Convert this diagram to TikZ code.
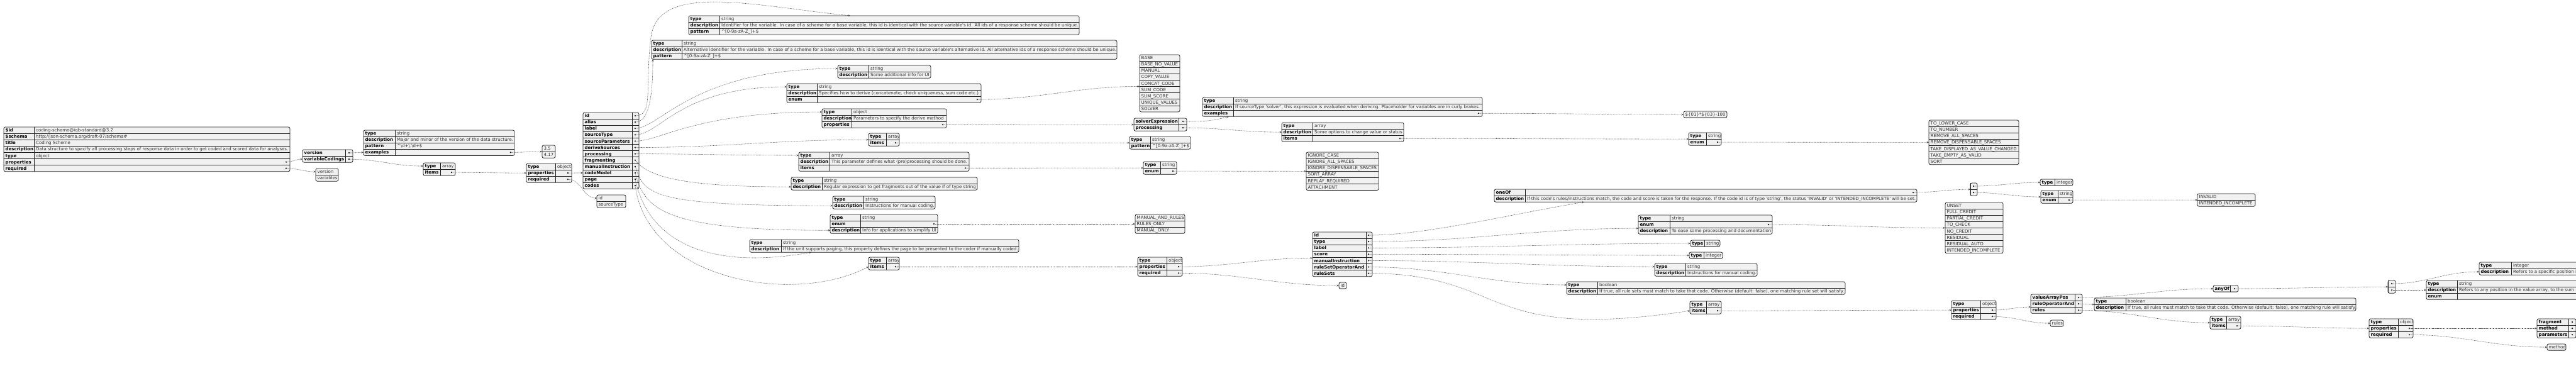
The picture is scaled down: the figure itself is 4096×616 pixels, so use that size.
\documentclass[tikz,border=0pt]{standalone}
\usepackage{fontspec}
\setmainfont{DejaVu Sans}
\usetikzlibrary{arrows.meta}

\definecolor{cellbg}{HTML}{F1F1F1}
\definecolor{cellline}{HTML}{1E1E1E}
\definecolor{valcol}{HTML}{303030}
\definecolor{linkcol}{HTML}{4A4A4A}

\newcommand{\rh}{10.1}
\newcommand{\sq}{\textquotesingle}

\tikzset{
  tabbox/.style={draw=cellline, fill=cellbg, rounded corners=2.5pt, line width=0.8pt,
    anchor=north west, inner sep=0pt, outer sep=0pt},
  cellsep/.style={draw=cellline, line width=0.6pt},
  keytxt/.style={anchor=base west, inner sep=0pt, font=\fontsize{7}{8}\selectfont\bfseries},
  valtxt/.style={anchor=base west, inner sep=0pt, text=valcol, font=\fontsize{7}{8}\selectfont},
  link/.style={draw=linkcol, line width=0.6pt, dash pattern=on 0.8pt off 0.9pt,
    -{Stealth[length=3.6pt,width=3pt]}},
}

% name, x, y, key width, value width, {key/value/bullet,...}
\newcommand{\jtab}[6]{%
  \foreach \jk/\jv/\jb [count=\i] in {#6} {\xdef\jn{\i}}
  \node[tabbox, minimum width={(#4+#5)*1pt}, minimum height={\jn*\rh*1pt}] (#1) at (#2,#3) {};
  \foreach \jk/\jv/\jb [count=\i] in {#6} {
    \coordinate (#1-l\i) at (#2,#3+\i*\rh-0.5*\rh);
    \coordinate (#1-\i) at (#2+#4+#5-6,#3+\i*\rh-0.5*\rh);
    \ifnum\i>1 \draw[cellsep] (#2,#3+\i*\rh-\rh) -- ++(#4+#5,0); \fi
    \node[keytxt] at ([xshift=2.5pt,yshift=-2.6pt]#1-l\i) {\jk};
    \node[valtxt] at ([xshift=#4pt+3pt,yshift=-2.6pt]#1-l\i) {\jv};
    \ifnum\jb=1 \fill (#1-\i) circle (1.2pt); \fi
  }
  \draw[cellsep] (#2+#4,#3) -- ++(0,\jn*\rh);
}
% name, x, y, width, {item,...}
\newcommand{\jlist}[5]{%
  \foreach \jv [count=\i] in {#5} {\xdef\jn{\i}}
  \node[tabbox, minimum width={#4*1pt}, minimum height={\jn*\rh*1pt}] (#1) at (#2,#3) {};
  \foreach \jv [count=\i] in {#5} {
    \coordinate (#1-l\i) at (#2,#3+\i*\rh-0.5*\rh);
    \ifnum\i>1 \draw[cellsep] (#2,#3+\i*\rh-\rh) -- ++(#4,0); \fi
    \node[valtxt] at ([xshift=2.5pt,yshift=-2.6pt]#1-l\i) {\jv};
  }
}

\begin{document}
\begin{tikzpicture}[x=1pt,y=-1pt]
\useasboundingbox (0,0) rectangle (4096,616);
\clip (0,0) rectangle (4096,616);

\jtab{root}{6}{202}{48}{407}{\$id/coding-scheme@iqb-standard@3.2/0, \$schema/{http://json-schema.org/draft-07/schema\#}/0, title/Coding Scheme/0, description/{Data structure to specify all processing steps of response data in order to get coded and scored data for analyses.}/0, type/object/0, properties//1, required//1}
\jtab{rootprops}{481}{238}{68}{12}{version//1, variableCodings//1}
\jlist{rootreq}{502}{268}{36}{version, variables}
\jtab{ver}{578}{207}{50}{190}{type/string/0, description/Major and minor of the version of the data structure./0, pattern/{\textasciicircum\textbackslash d+\textbackslash.\textbackslash d+\$}/0, examples//1}
\jlist{verex}{862}{231}{21}{3.5, 4.17}
\jtab{vcarr}{673}{259}{27}{24}{type/array/0, items//1}
\jtab{vcitem}{837}{260}{46}{26}{type/object/0, properties//1, required//1}
\jtab{vcprops}{927}{179}{78}{11}{id//1, alias//1, label//1, sourceType//1, sourceParameters//1, deriveSources//1, processing//1, fragmenting//1, manualInstruction//1, codeModel//1, page//1, codes//1}
\jlist{vcreq}{949}{310}{46}{id, sourceType}

\jtab{idtab}{1095}{25}{49}{572}{type/string/0, description/{Identifier for the variable. In case of a scheme for a base variable, this id is identical with the source variable\sq s id. All ids of a response scheme should be unique.}/0, pattern/{\textasciicircum[0-9a-zA-Z\_]+\$}/0}
\jtab{aliastab}{1036}{64}{48}{692}{type/string/0, description/{Alternative identifier for the variable. In case of a scheme for a base variable, this id is identical with the source variable\sq s alternative id. All alternative ids of a response scheme should be unique.}/0, pattern/{\textasciicircum[0-9a-zA-Z\_]+\$}/0}
\jtab{labeltab}{1332}{104}{49}{99}{type/string/0, description/Some additional info for UI/0}
\jtab{stypetab}{1251}{133}{48}{261}{type/string/0, description/{Specifies how to derive (concatenate, check uniqueness, sum code etc.).}/0, enum//1}
\jlist{stypeenum}{1812}{87}{64}{BASE, BASE\_NO\_VALUE, MANUAL, COPY\_VALUE, CONCAT\_CODE, SUM\_CODE, SUM\_SCORE, UNIQUE\_VALUES, SOLVER}
\jtab{sptab}{1307}{173}{47}{151}{type/object/0, description/Parameters to specify the derive method/0, properties//1}
\jtab{spprops}{1803}{188}{71}{13}{solverExpression//1, processing//1}
\jtab{solvtab}{1912}{155}{49}{396}{type/string/0, description/{If sourceType \sq solver\sq, this expression is evaluated when deriving. Placeholder for variables are in curly brakes.}/0, examples//1}
\jlist{solvex}{2677}{177}{69}{\$\{01\}*\$\{03\}-100}
\jtab{spproc}{2038}{195}{49}{145}{type/array/0, description/Some options to change value or status/0, items//1}
\jtab{spprocitem}{2685}{211}{28}{24}{type/string/0, enum//1}
\jlist{spprocenum}{3067}{191}{143}{TO\_LOWER\_CASE, TO\_NUMBER, REMOVE\_ALL\_SPACES, REMOVE\_DISPENSABLE\_SPACES, TAKE\_DISPLAYED\_AS\_VALUE\_CHANGED, TAKE\_EMPTY\_AS\_VALID, SORT}
\jtab{dstab}{1381}{212}{28}{21}{type/array/0, items//1}
\jtab{dsitem}{1796}{217}{33}{64}{type/string/0, pattern/{\textasciicircum[0-9a-zA-Z\_]+\$}/0}
\jtab{proctab}{1270}{242}{49}{222}{type/array/0, description/This parameter defines what (pre)processing should be done./0, items//1}
\jtab{procitem}{1818}{257}{27}{26}{type/string/0, enum//1}
\jlist{procenum}{2077}{242}{115}{IGNORE\_CASE, IGNORE\_ALL\_SPACES, IGNORE\_DISPENSABLE\_SPACES, SORT\_ARRAY, REPLAY\_REQUIRED, ATTACHMENT}
\jtab{fragtab}{1258}{282}{49}{247}{type/string/0, description/Regular expression to get fragments out of the value if of type string/0}
\jtab{mantab}{1324}{312}{49}{114}{type/string/0, description/Instructions for manual coding./0}
\jtab{cmtab}{1320}{341}{48}{123}{type/string/0, enum//1, description/Info for applications to simplify UI/0}
\jlist{cmenum}{1805}{341}{79}{MANUAL\_AND\_RULES, RULES\_ONLY, MANUAL\_ONLY}
\jtab{pagetab}{1192}{381}{50}{378}{type/string/0, description/{If the unit supports paging, this property defines the page to be presented to the coder if manually coded.}/0}
\jtab{codestab}{1381}{409}{28}{21}{type/array/0, items//1}
\jtab{codeobj}{1809}{409}{46}{25}{type/object/0, properties//1, required//1}
\jtab{codeprops}{2087}{369}{85}{10}{id//1, type//1, label//1, score//1, manualInstruction//1, ruleSetOperatorAnd//1, ruleSets//1}
\jlist{codereq}{2129}{449}{12}{id}

\jtab{oneoftab}{2376}{301}{49}{623}{oneOf//1, description/{If this code\sq s rules/instructions match, the code and score is taken for the response. If the code id is of type \sq string\sq, the status \sq INVALID\sq\ or \sq INTENDED\_INCOMPLETE\sq\ will be set.}/0}
\jtab{oneofalt}{3133}{291}{0}{11}{//1, //1}
\jtab{oneofint}{3244}{285}{23}{29}{type/integer/0}
\jtab{oneofstr}{3245}{303}{27}{24}{type/string/0, enum//1}
\jlist{oneofenum}{3494}{308}{92}{INVALID, INTENDED\_INCOMPLETE}
\jtab{ctypetab}{2605}{342}{50}{163}{type/string/0, enum//1, description/To ease some processing and documentation/0}
\jlist{ctypeenum}{3093}{322}{92}{UNSET, FULL\_CREDIT, PARTIAL\_CREDIT, TO\_CHECK, NO\_CREDIT, RESIDUAL, RESIDUAL\_AUTO, INTENDED\_INCOMPLETE}
\jtab{clabeltab}{2688}{382}{22}{25}{type/string/0}
\jtab{cscoretab}{2686}{401}{23}{30}{type/integer/0}
\jtab{cmantab}{2631}{419}{49}{114}{type/string/0, description/Instructions for manual coding./0}
\jtab{crsoptab}{2491}{448}{49}{394}{type/boolean/0, description/{If true, all rule sets must match to take that code. Otherwise (default: false), one matching rule set will satisfy.}/0}
\jtab{crstab}{2687}{479}{26}{24}{type/array/0, items//1}
\jtab{rsobj}{3103}{478}{46}{25}{type/object/0, properties//1, required//1}
\jtab{rsprops}{3229}{468}{70}{12}{valueArrayPos//1, ruleOperatorAnd//1, rules//1}
\jlist{rsreq}{3260}{509}{21}{rules}
\jtab{anyoftab}{3519}{454}{27}{13}{anyOf//1}
\jtab{anyofalt}{3797}{446}{0}{12}{//1, //1}
\jtab{apint}{3942}{417}{51}{300}{type/integer/0, description/Refers to a specific position in the value array./0}
\jtab{apstr}{3858}{446}{49}{400}{type/string/0, description/{Refers to any position in the value array, to the sum of all values or to the length of the array.}/0, enum//1}
\jtab{rsopand}{3330}{474}{50}{366}{type/boolean/0, description/{If true, all rules must match to take that code. Otherwise (default: false), one matching rule will satisfy.}/0}
\jtab{rulesarr}{3514}{503}{26}{23}{type/array/0, items//1}
\jtab{ruleobj}{3767}{507}{46}{24}{type/object/0, properties//1, required//1}
\jtab{ruleprops}{4034}{507}{50}{12}{fragment//1, method//1, parameters//1}
\jlist{rulereq}{4050}{547}{30}{method}

\draw[link] (root-6) to[out=0,in=180] (rootprops-l2);
\draw[link] (root-7) to[out=0,in=180] (rootreq-l1);
\draw[link] (rootprops-1) to[out=0,in=180] (ver-l4);
\draw[link] (rootprops-2) to[out=0,in=180] (vcarr-l1);
\draw[link] (ver-4) to[out=0,in=180] (verex.west);
\draw[link] (vcarr-2) to[out=0,in=180] (vcitem-l2);
\draw[link] (vcitem-2) to[out=0,in=180] (vcprops-l10);
\draw[link] (vcitem-3) to[out=0,in=180] (vcreq-l1);
\draw[link] (vcprops-1) .. controls +(30,0) and +(-10,80) .. (1035,60) .. controls +(10,-90) and +(-150,-15) .. ([xshift=257pt]idtab.north west);
\draw[link] (vcprops-2) .. controls +(25,0) and +(0,45) .. ([xshift=2pt]aliastab.south west);
\draw[link] (vcprops-3) .. controls +(40,0) and +(-230,0) .. (labeltab-l1);
\draw[link] (vcprops-4) .. controls +(40,0) and +(-170,0) .. (stypetab-l1);
\draw[link] (vcprops-5) .. controls +(40,0) and +(-200,0) .. (sptab-l1);
\draw[link] (vcprops-6) to[out=0,in=180] (dstab.west);
\draw[link] (vcprops-7) to[out=0,in=180] (proctab-l1);
\draw[link] (vcprops-8) .. controls +(20,25) and +(-180,0) .. (fragtab-l2);
\draw[link] (vcprops-9) .. controls +(15,45) and +(-290,0) .. (mantab-l2);
\draw[link] (vcprops-10) .. controls +(15,60) and +(-260,0) .. (cmtab-l3);
\draw[link] (vcprops-11) .. controls +(20,95) and +(-170,30) .. ([xshift=98pt]pagetab.south west);
\draw[link] (vcprops-12) .. controls +(20,150) and +(-120,62) .. (codestab-l2);
\draw[link] (stypetab-3) to[out=0,in=180] ([yshift=-5pt]stypeenum.west);
\draw[link] (sptab-3) to[out=0,in=180] (spprops.west);
\draw[link] (spprops-1) .. controls +(30,0) and +(-30,8) .. ([xshift=42pt]solvtab.south west);
\draw[link] (spprops-2) to[out=0,in=180] (spproc.west);
\draw[link] (solvtab-3) to[out=0,in=180] (solvex.west);
\draw[link] (spproc-3) to[out=0,in=180] (spprocitem.west);
\draw[link] (spprocitem-2) to[out=0,in=180] (spprocenum.west);
\draw[link] (dstab-2) to[out=0,in=180] (dsitem.west);
\draw[link] (proctab-3) to[out=0,in=180] (procitem.west);
\draw[link] (procitem-2) to[out=0,in=180] (procenum.west);
\draw[link] (cmtab-2) to[out=0,in=180] (cmenum.west);
\draw[link] (codestab-2) to[out=0,in=180] (codeobj-l2);
\draw[link] (codeobj-2) to[out=0,in=180] ([yshift=-6pt]codeprops.west);
\draw[link] (codeobj-3) to[out=0,in=180] (codereq.west);
\draw[link] (codeprops-1) .. controls +(90,0) and +(-120,20) .. ([xshift=143pt]oneoftab.south west);
\draw[link] (codeprops-2) to[out=0,in=180] ([yshift=-6pt]ctypetab.west);
\draw[link] (codeprops-3) to[out=0,in=180] (clabeltab.west);
\draw[link] (codeprops-4) to[out=0,in=180] (cscoretab.west);
\draw[link] (codeprops-5) to[out=0,in=180] (cmantab-l1);
\draw[link] (codeprops-6) to[out=0,in=180] (crsoptab-l1);
\draw[link] (codeprops-7) .. controls +(223,0) and +(-337,51) .. (crstab-l2);
\draw[link] (ctypetab-2) to[out=0,in=180] (ctypeenum.west);
\draw[link] (oneoftab-1) to[out=0,in=180] (oneofalt.west);
\draw[link] (oneofalt-1) to[out=0,in=180] (oneofint.west);
\draw[link] (oneofalt-2) to[out=0,in=180] (oneofstr.west);
\draw[link] (oneofstr-2) to[out=0,in=180] (oneofenum.west);
\draw[link] (crstab-2) to[out=0,in=180] (rsobj-l2);
\draw[link] (rsobj-2) to[out=0,in=180] ([yshift=-5pt]rsprops.west);
\draw[link] (rsobj-3) to[out=0,in=180] (rsreq.west);
\draw[link] (rsprops-1) to[out=0,in=180] (anyoftab.west);
\draw[link] (rsprops-2) to[out=0,in=180] (rsopand.west);
\draw[link] (rsprops-3) to[out=0,in=180] (rulesarr.west);
\draw[link] (anyoftab-1) to[out=0,in=180] (anyofalt.west);
\draw[link] (anyofalt-1) to[out=0,in=180] (apint-l2);
\draw[link] (anyofalt-2) to[out=0,in=180] (apstr-l2);
\draw[link] (rulesarr-2) to[out=0,in=180] (ruleobj-l2);
\draw[link] (ruleobj-2) to[out=0,in=180] (ruleprops.west);
\draw[link] (ruleobj-3) to[out=0,in=180] (rulereq.west);
\end{tikzpicture}
\end{document}
